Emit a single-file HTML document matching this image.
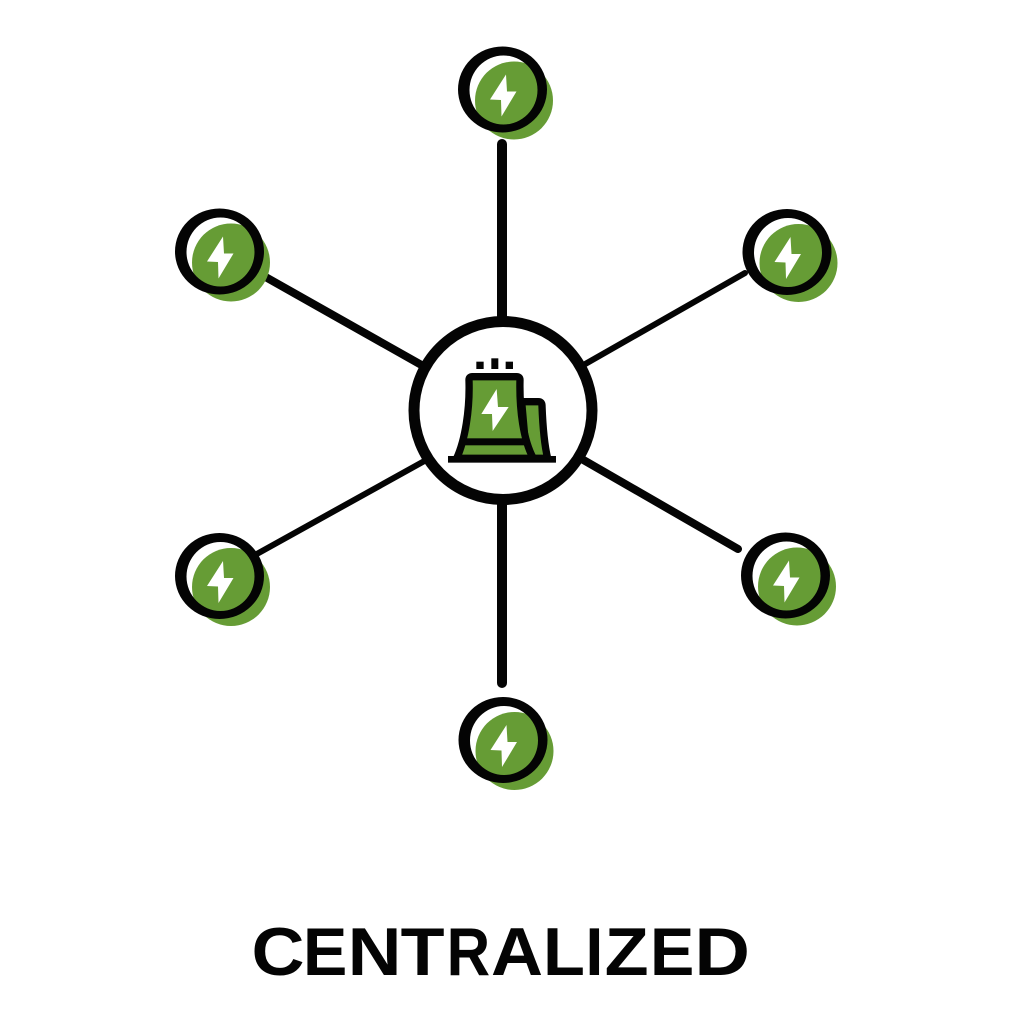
<!DOCTYPE html>
<html>
<head>
<meta charset="utf-8">
<style>
html,body{margin:0;padding:0;background:#fff}
svg{display:block}
text{font-family:"Liberation Sans",sans-serif;font-weight:700;font-size:68px;fill:#040404}
</style>
</head>
<body>
<svg width="1024" height="1024" viewBox="0 0 1024 1024" xmlns="http://www.w3.org/2000/svg">
<defs>
<g id="node">
  <circle cx="11.5" cy="11" r="39" fill="#669c35"/>
  <path d="M3.5,-15 L-12.5,10 L-1.5,10.5 L-1,27 L14,2 L4.5,2 Z" fill="#fff"/>
  <path fill-rule="evenodd" fill="#040404" d="M-44.5,0 A44.5,43 0 1 1 44.5,0 A44.5,43 0 1 1 -44.5,0 Z M-33,0.5 A34,34.5 0 1 0 35,0.5 A34,34.5 0 1 0 -33,0.5 Z"/>
</g>
</defs>
<rect width="1024" height="1024" fill="#fff"/>

<g stroke="#040404" stroke-linecap="round" fill="none">
  <line x1="502" y1="144" x2="502" y2="325" stroke-width="10"/>
  <line x1="502" y1="495" x2="502" y2="683" stroke-width="10"/>
  <line x1="262" y1="275" x2="425" y2="367" stroke-width="8"/>
  <line x1="745" y1="273" x2="580" y2="367" stroke-width="6"/>
  <line x1="255" y1="555" x2="428" y2="459" stroke-width="6"/>
  <line x1="738" y1="549" x2="580" y2="458" stroke-width="8"/>
</g>

<circle cx="503" cy="410.5" r="89" fill="#fff" stroke="#040404" stroke-width="11"/>

<g transform="translate(400,310) scale(0.3333)">
  <path d="M365,275 L415,275 Q426,275 426,287 C428,340 432,400 443,445 L380,445 Z" fill="#669c35" stroke="#040404" stroke-width="22" stroke-linejoin="round"/>
  <path d="M217,200 L350,200 Q360,200 360,210 C358,300 370,390 400,445 L170,445 C195,390 210,300 207,210 Q207,200 217,200 Z" fill="#669c35" stroke="#040404" stroke-width="22" stroke-linejoin="round"/>
  <rect x="182" y="385" width="200" height="21" fill="#040404"/>
  <rect x="144" y="438" width="324" height="20" fill="#040404"/>
  <rect x="229" y="155" width="22" height="22" fill="#040404"/>
  <rect x="274" y="145" width="21" height="32" fill="#040404"/>
  <rect x="317" y="155" width="22" height="22" fill="#040404"/>
  <path d="M290,237 L244,312 L276,312 L278,363 L326,291 L294,291 Z" fill="#fff"/>
</g>

<use href="#node" x="502.5" y="89.5"/>
<use href="#node" x="219.5" y="251.5"/>
<use href="#node" x="787" y="252"/>
<use href="#node" x="219.5" y="576"/>
<use href="#node" x="785.5" y="575.5"/>
<use href="#node" x="503" y="740"/>

<g>
  <text x="251.5" y="975" textLength="53" lengthAdjust="spacingAndGlyphs">C</text>
  <text x="303" y="975" textLength="44.3" lengthAdjust="spacingAndGlyphs">E</text>
  <text x="347.6" y="975" textLength="53.9" lengthAdjust="spacingAndGlyphs">N</text>
  <text x="400.6" y="975" textLength="43.9" lengthAdjust="spacingAndGlyphs">T</text>
  <text x="446.6" y="975" textLength="43.5" lengthAdjust="spacingAndGlyphs">R</text>
  <text x="491" y="975" textLength="52" lengthAdjust="spacingAndGlyphs">A</text>
  <text x="543" y="975" textLength="41.9" lengthAdjust="spacingAndGlyphs">L</text>
  <text x="585.4" y="975" textLength="18" lengthAdjust="spacingAndGlyphs">I</text>
  <text x="604.6" y="975" textLength="44" lengthAdjust="spacingAndGlyphs">Z</text>
  <text x="650" y="975" textLength="44.3" lengthAdjust="spacingAndGlyphs">E</text>
  <text x="694.4" y="975" textLength="55.6" lengthAdjust="spacingAndGlyphs">D</text>
</g>
</svg>
</body>
</html>
